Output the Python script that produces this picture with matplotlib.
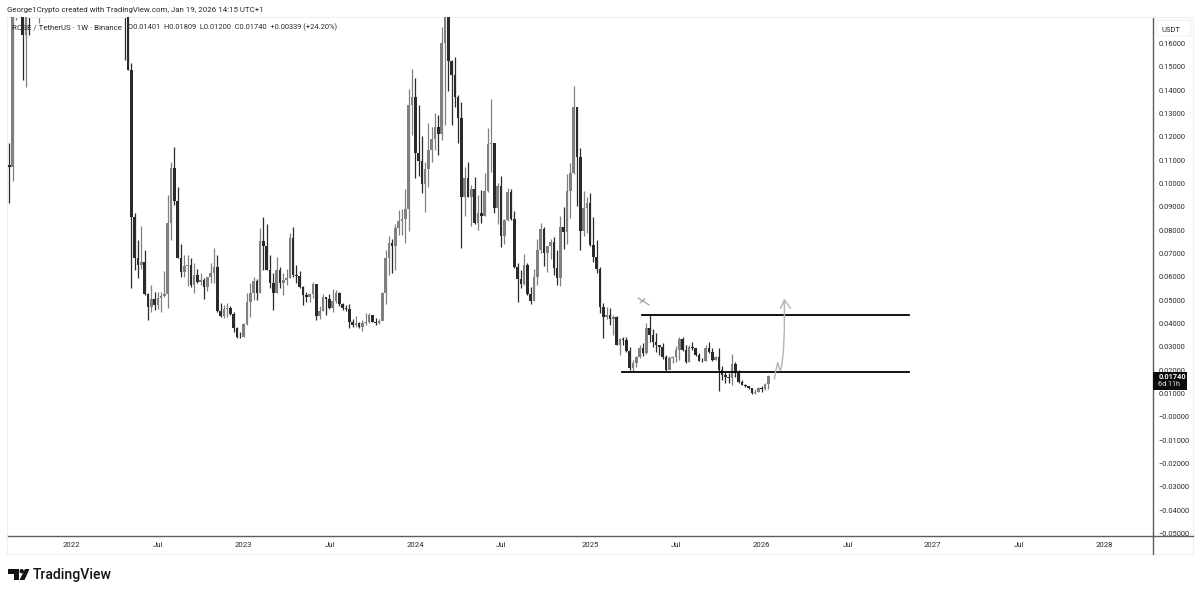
import numpy as np
import pandas as pd
import matplotlib
matplotlib.use("Agg")
import matplotlib.pyplot as plt
import matplotlib.dates as mdates
from matplotlib.patches import Circle, FancyBboxPatch, Polygon, Rectangle

plt.rcParams['font.family'] = ['Roboto', 'DejaVu Sans']

nan = float('nan')
first_open = 0.1070
off_chart = [nan] * 25  # weeks above the visible range

# weekly candles (open is the previous close)
closes = [.1080, .1072, .1900, .2300, .2400, .1637, .2000, .1900, .2200, .2300, .2300] + off_chart + [.2000, .1487,
    .0857, .0680, .0651, .0666, .0526, .0473, .0504, .0480, .0509, .0519,
    .0526, .0833, .1067, .0926, .0682, .0620, .0647, .0651, .0566, .0609,
    .0580, .0587, .0556, .0599, .0616, .0641, .0456, .0433, .0461, .0466,
    .0441, .0380, .0344, .0341, .0399, .0491, .0533, .0583, .0530, .0756,
    .0733, .0630, .0573, .0533, .0630, .0573, .0587, .0594, .0766, .0609,
    .0604, .0556, .0523, .0513, .0527, .0570, .0433, .0456, .0513, .0504,
    .0466, .0499, .0533, .0484, .0466, .0461, .0409, .0394, .0401, .0384,
    .0404, .0409, .0437, .0409, .0401, .0413, .0530, .0680, .0744, .0733,
    .0809, .0841, .0847, .0890, .1337, .1370, .1130, .1099, .0999, .1061,
    .1144, .1190, .1241, .1213, .1601, .1800, .1527, .1466, .1370, .1280,
    .0944, .1023, .0944, .0976, .0830, .0876, .0861, .0970, .1170, .1173,
    .0894, .0990, .0776, .0844, .0966, .0847, .0641, .0590, .0570, .0651,
    .0527, .0499, .0599, .0716, .0804, .0704, .0733, .0751, .0637, .0594,
    .0816, .0794, .0970, .1047, .1327, .1116, .0799, .0894, .0916, .0737,
    .0684, .0633, .0473, .0430, .0437, .0419, .0430, .0309, .0333, .0330,
    .0284, .0209, .0230, .0256, .0294, .0276, .0380, .0351, .0323, .0309,
    .0301, .0256, .0201, .0251, .0256, .0287, .0333, .0287, .0237, .0301,
    .0294, .0266, .0241, .0240, .0294, .0280, .0244, .0256, .0201, .0180,
    .0170, .0166, .0227, .0187, .0151, .0137, .0133, .0123, .0101, .0109,
    .0123, .0120, .01401, .0174]

highs = [.1089, .1174, .2100, .2400, .2500, .2500, .2200, .2100, .2300, .2400, .2400] + off_chart + [.2400, .2000,
    .1517, .0873, .0759, .0819, .0716, .0530, .0566, .0537, .0537, .0537,
    .0626, .0951, .1093, .1157, .0986, .0741, .0694, .0694, .0680, .0661,
    .0633, .0616, .0594, .0601, .0659, .0723, .0694, .0487, .0480, .0490,
    .0476, .0451, .0387, .0366, .0404, .0530, .0576, .0601, .0590, .0809,
    .0856, .0826, .0694, .0616, .0684, .0641, .0616, .0633, .0790, .0813,
    .0651, .0627, .0561, .0537, .0533, .0580, .0570, .0476, .0527, .0513,
    .0527, .0547, .0544, .0537, .0490, .0480, .0484, .0419, .0433, .0409,
    .0416, .0444, .0444, .0437, .0423, .0419, .0537, .0716, .0776, .0761,
    .0827, .0887, .0890, .0976, .1404, .1490, .1451, .1336, .1204, .1094,
    .1259, .1244, .1301, .1294, .1670, .1900, .1850, .1530, .1544, .1380,
    .1351, .1073, .1094, .0994, .1030, .0951, .0973, .1047, .1237, .1363,
    .1176, .1004, .1033, .0847, .0980, .0976, .0884, .0659, .0630, .0699,
    .0659, .0556, .0633, .0764, .0833, .0813, .0733, .0761, .0770, .0716,
    .0861, .0901, .1041, .1090, .1419, .1327, .1151, .0970, .0944, .0959,
    .0859, .0759, .0644, .0490, .0473, .0466, .0437, .0433, .0337, .0344,
    .0344, .0301, .0244, .0261, .0309, .0319, .0401, .0440, .0376, .0359,
    .0309, .0316, .0266, .0261, .0261, .0304, .0341, .0341, .0309, .0309,
    .0323, .0294, .0276, .0251, .0309, .0323, .0294, .0261, .0294, .0219,
    .0194, .0187, .0270, .0237, .0201, .0159, .0141, .0133, .0121, .0119,
    .0130, .0133, .0146, .01809]

lows = [.0986, .0917, .1012, .1702, .1800, .1444, .1414, .1637, .1800, .1800, .1689] + off_chart + [.1530, .1487,
    .0553, .0630, .0594, .0633, .0523, .0416, .0451, .0459, .0461, .0451,
    .0516, .0466, .0759, .0909, .0682, .0601, .0599, .0561, .0559, .0533,
    .0573, .0566, .0504, .0541, .0573, .0573, .0451, .0427, .0423, .0430,
    .0437, .0366, .0337, .0337, .0341, .0394, .0430, .0501, .0501, .0530,
    .0630, .0630, .0551, .0459, .0533, .0551, .0523, .0566, .0594, .0601,
    .0573, .0551, .0480, .0494, .0494, .0509, .0416, .0419, .0456, .0437,
    .0461, .0451, .0487, .0476, .0459, .0456, .0380, .0387, .0384, .0380,
    .0370, .0394, .0404, .0409, .0394, .0399, .0419, .0484, .0609, .0616,
    .0630, .0780, .0780, .0747, .0799, .1209, .1023, .1033, .0959, .0880,
    .0984, .1094, .1144, .1123, .1187, .1251, .1399, .1251, .1327, .1173,
    .0723, .0861, .0941, .0819, .0827, .0801, .0830, .0861, .0966, .1051,
    .0873, .0827, .0727, .0741, .0841, .0844, .0637, .0494, .0551, .0566,
    .0523, .0484, .0499, .0566, .0701, .0647, .0623, .0676, .0609, .0566,
    .0561, .0719, .0741, .0851, .1041, .0904, .0716, .0776, .0787, .0733,
    .0666, .0619, .0447, .0337, .0419, .0394, .0351, .0309, .0266, .0309,
    .0280, .0201, .0194, .0216, .0251, .0261, .0270, .0323, .0301, .0280,
    .0266, .0247, .0199, .0213, .0230, .0237, .0246, .0284, .0233, .0237,
    .0287, .0261, .0239, .0237, .0240, .0276, .0241, .0244, .0113, .0159,
    .0144, .0144, .0137, .0173, .0144, .0136, .0130, .0120, .0099, .0099,
    .0109, .0109, .0114, .0120]

dates = pd.date_range(end='2026-01-19', periods=len(closes), freq='7D')

price_ticks = [-0.05, -0.04, -0.03, -0.02, -0.01, 0, 0.01, 0.02, 0.03, 0.04, 0.05, 0.06, 0.07, 0.08,
               0.09, 0.10, 0.11, 0.12, 0.13, 0.14, 0.15, 0.16]
price_labels = ['\u22120.05000', '\u22120.04000', '\u22120.03000', '\u22120.02000', '\u22120.01000', '\u22120.00000',
                '0.01000', '0.02000', '0.03000', '0.04000', '0.05000', '0.06000', '0.07000', '0.08000',
                '0.09000', '0.10000', '0.11000', '0.12000', '0.13000', '0.14000', '0.15000', '0.16000']
# first weekly bar of each period
time_ticks = ['2022-01-01', '2022-07-04', '2023-01-01', '2023-07-03', '2024-01-01', '2024-07-01', '2025-01-06',
              '2025-07-07', '2026-01-05', '2026-07-06', '2027-01-01', '2027-07-05', '2028-01-01']
time_labels = ['2022', 'Jul', '2023', 'Jul', '2024', 'Jul', '2025', 'Jul', '2026', 'Jul', '2027', 'Jul', '2028']

# hand drawn bits on the chart
upper_level = 0.0439
lower_level = 0.0191
upper_start, lower_start, levels_end = '2025-04-26', '2025-03-15', '2026-11-13'
arrow_dates = ['2026-02-01', '2026-02-04', '2026-02-08', '2026-02-12', '2026-02-14', '2026-02-17', '2026-02-20',
               '2026-02-22', '2026-02-22']
arrow_prices = [.0163, .0201, .0233, .0204, .0199, .0230, .0280, .0373, .0501]
head_dates = ['2026-02-14', '2026-02-22', '2026-03-07']
head_prices = [.0466, .0501, .0466]
cross_a_dates, cross_a_prices = ['2025-04-18', '2025-05-11'], [.0510, .0480]
cross_b_dates, cross_b_prices = ['2025-04-22', '2025-05-02'], [.0489, .0506]

UP = '#808080'
DOWN = '#2a2a2a'
AXIS = '#5d5d5d'
LIGHT = '#eef0f3'
TEXT = '#2a2a2a'


def px(x, y):
    return x / 1200, 1 - y / 594


def d(values):
    return mdates.date2num(pd.to_datetime(values))


def frame_line(x0, y0, x1, y1, color=LIGHT, lw=0.8):
    fig.add_artist(plt.Line2D(*zip(px(x0, y0), px(x1, y1)), color=color, lw=lw))


fig = plt.figure(figsize=(12, 5.94), dpi=100, facecolor='white')
ax = fig.add_axes([7 / 1200, 1 - 536 / 594, (1153 - 7) / 1200, (536 - 17) / 594])

x = mdates.date2num(dates)
opens = np.array([first_open] + closes[:-1])
closes_a = np.array(closes)
colors = [UP if c >= o else DOWN for o, c in zip(opens, closes_a)]
ax.vlines(x, lows, highs, colors=colors, lw=0.9, zorder=2)
ax.bar(x, closes_a - opens, bottom=opens, width=5.4, color=colors, lw=0, zorder=3)

ax.plot(d([upper_start, levels_end]), [upper_level, upper_level], color='black', lw=1.3, zorder=4)
ax.plot(d([lower_start, levels_end]), [lower_level, lower_level], color='black', lw=1.3, zorder=4)
ax.plot(d(arrow_dates), arrow_prices, color='#b4b4b4', lw=1.0, zorder=4)
ax.plot(d(head_dates), head_prices, color='#b4b4b4', lw=1.0, zorder=4)
ax.plot(d(cross_a_dates), cross_a_prices, color='#9a9a9a', lw=0.8, zorder=4)
ax.plot(d(cross_b_dates), cross_b_prices, color='#9a9a9a', lw=0.8, zorder=4)

ax.set_xlim(d(['2021-08-18', '2028-04-14']))
ax.set_ylim(-0.0510, 0.1714)
ax.yaxis.tick_right()
ax.set_yticks(price_ticks, price_labels, fontsize=5.4, color=TEXT)
ax.set_xticks(d(time_ticks), time_labels, fontsize=5.6, color=TEXT)
ax.tick_params(length=0, axis='y', pad=4)
ax.tick_params(length=0, axis='x', pad=4.5)

ax.spines['top'].set_color(LIGHT)
ax.spines['left'].set_color(LIGHT)
ax.spines['right'].set_color(AXIS)
ax.spines['bottom'].set_color(AXIS)
for side in ['top', 'left']:
    ax.spines[side].set_linewidth(0.8)
for side in ['right', 'bottom']:
    ax.spines[side].set_linewidth(1.0)

# outer frame of the chart
frame_line(7, 554, 1193, 554)
frame_line(7, 536, 7, 554)
frame_line(1193, 17, 1193, 554)
frame_line(1153, 17, 1193, 17)
frame_line(1153, 536, 1193, 536, color=AXIS, lw=1.0)
frame_line(1153, 536, 1153, 554, color=AXIS, lw=1.0)

fig.text(*px(7, 10), 'George1Crypto created with TradingView.com, Jan 19, 2026 14:15 UTC+1', fontsize=5.65,
         color=TEXT, va='center')
fig.text(*px(12, 27), 'ROSE / TetherUS \u00b7 1W \u00b7 Binance', fontsize=5.7, color=TEXT, va='center')
fig.text(*px(128, 27), 'O0.01401  H0.01809  L0.01200  C0.01740  +0.00339 (+24.20%)', fontsize=5.45, color=TEXT,
         va='center')

# unit box on top of the price scale
fig.add_artist(FancyBboxPatch(px(1157, 36), 34 / 1200, 16 / 594, boxstyle='round,pad=0,rounding_size=0.002',
                              fc='white', ec=LIGHT, lw=0.8))
fig.text(*px(1161.5, 29.5), 'USDT', fontsize=5.5, color=TEXT, va='center')

# last price tag
fig.add_artist(Rectangle(px(1153, 390), 34 / 1200, 18 / 594, color='#0b0b0b', lw=0, zorder=5))
fig.text(*px(1158.5, 377), '0.01740', fontsize=5.3, color='white', fontweight='bold', va='center', zorder=6)
fig.text(*px(1158.5, 385), '6d 11h', fontsize=5.2, color='#e8e8e8', va='center', zorder=6)

# TradingView logo
LOGO = '#131313'
fig.add_artist(Polygon([px(8, 569), px(19, 569), px(19, 580), px(13.5, 580), px(13.5, 573.5), px(8, 573.5)],
                       closed=True, color=LOGO, lw=0))
fig.add_artist(Polygon([px(25, 569), px(29.5, 569), px(24.5, 580), px(19.5, 580)], closed=True, color=LOGO, lw=0))
fig.add_artist(Circle((21.7, 594 - 571.2), 2.2, transform=None, color=LOGO, lw=0))
fig.text(*px(33, 574.5), 'TradingView', fontsize=10.1, fontweight='medium', color=LOGO, va='center')

fig.savefig('out.png', dpi=100)
